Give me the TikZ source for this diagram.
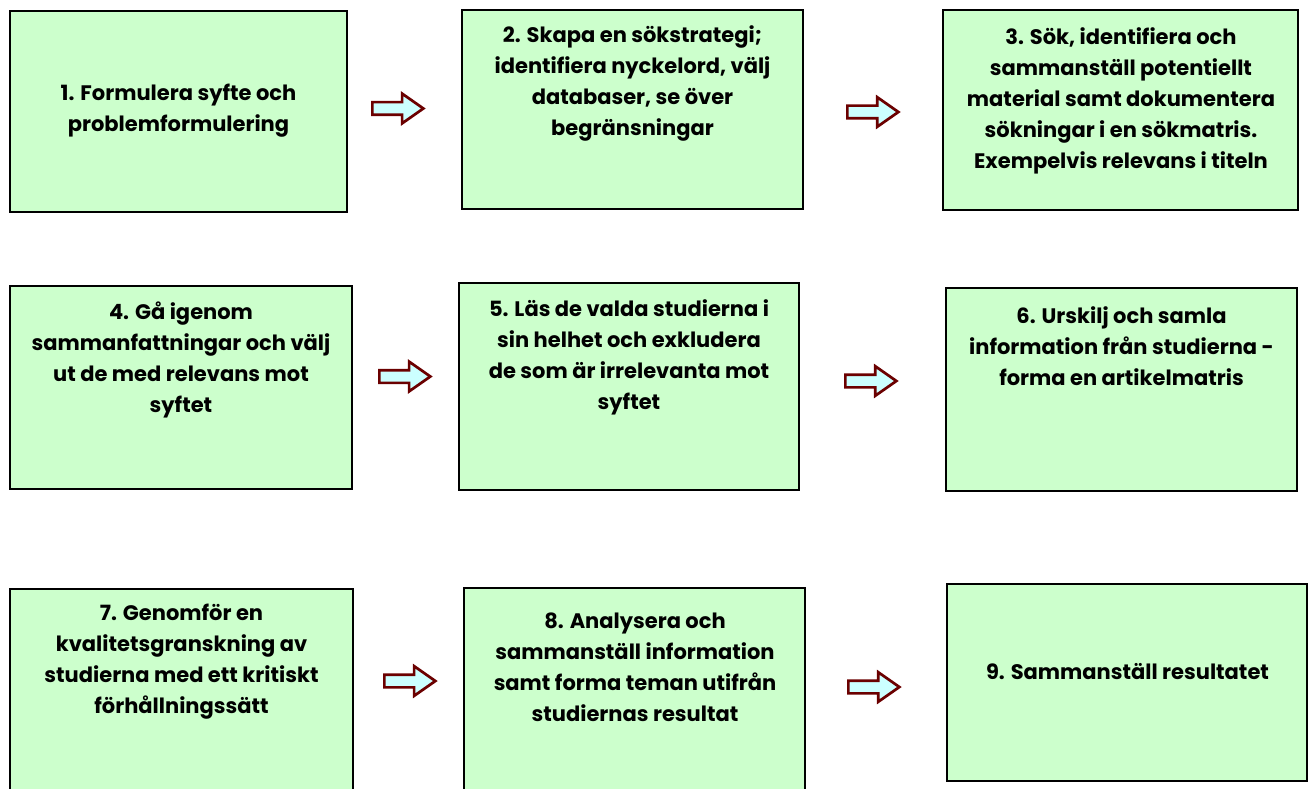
\documentclass[tikz,border=0pt]{standalone}
\usepackage{fontspec}
\setmainfont{Poppins}
\usetikzlibrary{shapes.arrows}
\definecolor{boxfill}{HTML}{CCFFCC}
\definecolor{arrfill}{HTML}{CCFFFF}
\definecolor{arrdraw}{HTML}{6B0000}
\tikzset{
  stepbox/.style={draw=black, line width=1.6pt, fill=boxfill, inner sep=0pt},
  steptext/.style={align=center, inner sep=0pt, font=\fontsize{21}{31}\selectfont\bfseries},
  blockarrow/.style={single arrow, draw=arrdraw, fill=arrfill, line width=2.7pt,
    minimum height=51pt, single arrow head extend=8.5pt, single arrow tip angle=70,
    single arrow head indent=0pt, inner xsep=0pt, inner ysep=5pt,
    text width=0pt, text height=0pt, text depth=0pt, anchor=west}
}
\begin{document}
\begin{tikzpicture}[x=1pt,y=-1pt]
\useasboundingbox (0,0) rectangle (1312,789);
\clip (0,0) rectangle (1312,789);
% boxes
\draw[stepbox] (10,11) rectangle (347,212) coordinate (b1);
\draw[stepbox] (462,10) rectangle (803,209) coordinate (b2);
\draw[stepbox] (943,10) rectangle (1298,210) coordinate (b3);
\draw[stepbox] (10,286) rectangle (352,489) coordinate (b4);
\draw[stepbox] (459,283) rectangle (799,490) coordinate (b5);
\draw[stepbox] (946,288) rectangle (1297,491) coordinate (b6);
\draw[stepbox] (10,589) rectangle (353,800) coordinate (b7);
\draw[stepbox] (464,588) rectangle (805,800) coordinate (b8);
\draw[stepbox] (947,584) rectangle (1307,781) coordinate (b9);
% texts
\node[steptext] (t1) at (178.5,110.5) {1. Formulera syfte och\\problemformulering};
\node[steptext] (t2) at (632.5,83.5) {2. Skapa en sökstrategi;\\identifiera nyckelord, välj\\databaser, se över\\begränsningar};
\node[steptext] (t3) at (1121,101) {3. Sök, identifiera och\\sammanställ potentiellt\\material samt dokumentera\\sökningar i en sökmatris.\\Exempelvis relevans i titeln};
\node[steptext] (t4) at (181,359.5) {4. Gå igenom\\sammanfattningar och välj\\ut de med relevans mot\\syftet};
\node[steptext] (t5) at (629,357) {5. Läs de valda studierna i\\sin helhet och exkludera\\de som är irrelevanta mot\\syftet};
\node[steptext] (t6) at (1121.5,346) {6. Urskilj och samla\\information från studierna -\\forma en artikelmatris};
\node[steptext] (t7) at (181.5,662) {7. Genomför en\\kvalitetsgranskning av\\studierna med ett kritiskt\\förhållningssätt};
\node[steptext] (t8) at (635,667) {8. Analysera och\\sammanställ information\\samt forma teman utifrån\\studiernas resultat};
\node[steptext] (t9) at (1127.5,672) {9. Sammanställ resultatet};
% arrows
\node[blockarrow] (a12) at (371,108.5) {};
\node[blockarrow] (a23) at (846,112) {};
\node[blockarrow] (a45) at (378,376.5) {};
\node[blockarrow] (a56) at (844,381) {};
\node[blockarrow] (a78) at (383,681) {};
\node[blockarrow] (a89) at (847,687) {};
\end{tikzpicture}
\end{document}
